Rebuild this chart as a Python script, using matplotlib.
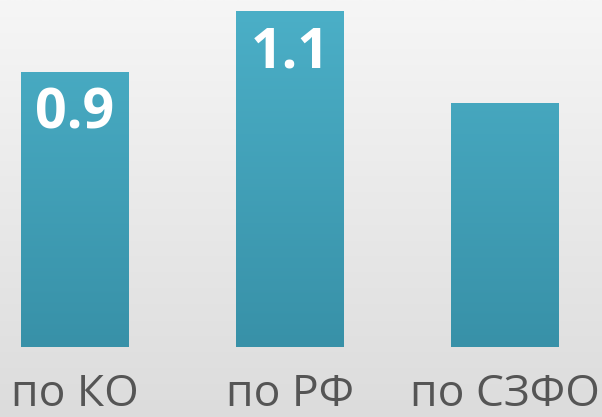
import numpy as np
import matplotlib
matplotlib.use("Agg")
import matplotlib.pyplot as plt
from matplotlib.colors import LinearSegmentedColormap

categories = ['по КО', 'по РФ', 'по СЗФО']
values = [0.9, 1.1, 0.8]
show_label = [True, True, False]

plt.rcParams['font.family'] = ['Open Sans', 'DejaVu Sans']

fig = plt.figure(figsize=(6.02, 4.17), dpi=100)

# background gradient (light at top, greyer at bottom)
bg = fig.add_axes([0, 0, 1, 1])
bg.axis('off')
bg_cmap = LinearSegmentedColormap.from_list('bg', ['#dcdcdc', '#f6f6f6'])
bg.imshow(np.linspace(0, 1, 256).reshape(-1, 1), cmap=bg_cmap, aspect='auto',
          origin='lower', extent=[0, 1, 0, 1])

ax = fig.add_axes([0, 70 / 417, 1, 347 / 417])
ax.patch.set_alpha(0)
x = np.arange(len(categories))
bars = ax.bar(x, values, width=0.5, color='#43a4bc')
ax.set_xlim(-0.349, 2.453)
ax.set_ylim(0, 1.136)
ax.axis('off')

# vertical gradient on the bars
bar_cmap = LinearSegmentedColormap.from_list('bar', ['#3891a8', '#4bafc7'])
grad = np.linspace(0, 1, 256).reshape(-1, 1)
for b in bars:
    x0, y0 = b.get_x(), b.get_y()
    im = ax.imshow(grad, cmap=bar_cmap, aspect='auto', origin='lower',
                   extent=[x0, x0 + b.get_width(), 0, max(values)], zorder=2)
    im.set_clip_path(b)

for i, (v, lab) in enumerate(zip(values, categories)):
    if show_label[i]:
        ax.annotate(f'{v}', (x[i], v), xytext=(0, -30.5), textcoords='offset points',
                    ha='center', va='center', color='white', fontsize=40,
                    fontweight='bold', zorder=3)
    ax.text(x[i], -0.138, lab, transform=ax.get_xaxis_transform(), ha='center',
            va='center', fontsize=32, color='#555555', clip_on=False)

fig.savefig('out.png', dpi=100)
